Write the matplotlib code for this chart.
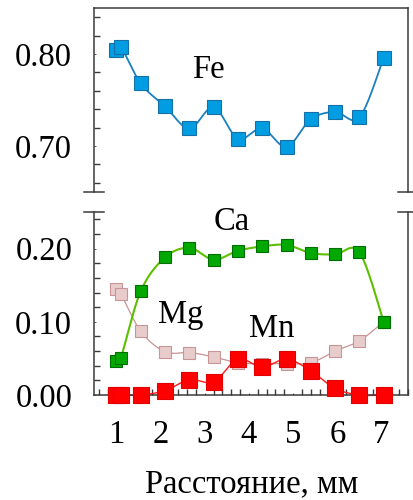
import numpy as np
import matplotlib
matplotlib.use("Agg")
import matplotlib.pyplot as plt
from matplotlib.ticker import MultipleLocator

plt.rcParams['font.family'] = ['Liberation Serif', 'DejaVu Serif']
plt.rcParams['mathtext.fontset'] = 'stix'

# Distance along the profile, mm
distance = [1.0, 1.1, 1.55, 2.1, 2.65, 3.2, 3.75, 4.3, 4.85, 5.4, 5.95, 6.5, 7.05]

# Cation fractions along the profile
fe = [0.804, 0.808, 0.768, 0.743, 0.719, 0.742, 0.708, 0.719, 0.699, 0.729, 0.737, 0.731, 0.796]
ca = [0.047, 0.051, 0.142, 0.188, 0.201, 0.185, 0.197, 0.203, 0.205, 0.194, 0.192, 0.195, 0.100]
mg = [0.145, 0.138, 0.087, 0.059, 0.058, 0.052, 0.044, 0.043, 0.043, 0.044, 0.060, 0.074, 0.100]
mn = [0.0, 0.0, 0.0, 0.006, 0.021, 0.018, 0.049, 0.038, 0.049, 0.033, 0.009, 0.0, 0.0]

x_ticks = [1, 2, 3, 4, 5, 6, 7]
top_ticks = [0.70, 0.80]
bottom_ticks = [0.00, 0.10, 0.20]


def smooth(x, y, n=24):
    """Catmull-Rom curve through the measured points."""
    pts = np.column_stack([x, y]).astype(float)
    P = np.vstack([pts[0], pts, pts[-1]])
    t = np.linspace(0, 1, n)[:, None]
    segs = []
    for i in range(1, len(P) - 2):
        p0, p1, p2, p3 = P[i - 1], P[i], P[i + 1], P[i + 2]
        seg = 0.5 * (2 * p1 + (-p0 + p2) * t
                     + (2 * p0 - 5 * p1 + 4 * p2 - p3) * t ** 2
                     + (-p0 + 3 * p1 - 3 * p2 + p3) * t ** 3)
        segs.append(seg if i == 1 else seg[1:])
    c = np.vstack(segs)
    return c[:, 0], c[:, 1]


fig = plt.figure(figsize=(4.14, 5.0), dpi=100)
ax_top = fig.add_axes([0.228, 0.6166, 0.7575, 0.3668])
ax_bot = fig.add_axes([0.228, 0.21, 0.7575, 0.366])

spine_col = '#3a3a3a'
fs = 23.5

series_top = [(fe, '#1a80c0', '#009de2', '#1670a8', 9.6, 1.3)]
series_bot = [
    (mg, '#c99393', '#e8cccc', '#c79595', 8.4, 0.9),
    (ca, '#5cbf00', '#00a800', '#006e00', 8.4, 1.5),
    (mn, '#ff1a1a', '#ff0000', '#e00000', 11.0, 1.0),
]

for ax, series in ((ax_top, series_top), (ax_bot, series_bot)):
    for vals, lc, fc, ec, ms, lw in series:
        sx, sy = smooth(distance, vals)
        ax.plot(sx, sy, color=lc, lw=lw, zorder=2, clip_on=False)
        ax.plot(distance, vals, ls='none', marker='s', ms=ms,
                mfc=fc, mec=ec, mew=0.8, zorder=3, clip_on=False)
    ax.set_xlim(0.5, 7.6)
    for s in ax.spines.values():
        s.set_color(spine_col)
        s.set_linewidth(1.1)

ax_top.set_ylim(0.65, 0.85)
ax_bot.set_ylim(0.0, 0.25)

# Axis break: hide facing spines and add short marks across the side spines
ax_top.spines['bottom'].set_visible(False)
ax_bot.spines['top'].set_visible(False)
d = 0.032
for ax, yb in ((ax_top, 0.0), (ax_bot, 1.0)):
    for xb in (0.0, 1.0):
        ax.plot([xb - d, xb + d], [yb, yb], transform=ax.transAxes,
                color=spine_col, lw=1.1, clip_on=False)

# Ticks
ax_top.set_xticks([])
ax_top.set_yticks(top_ticks)
ax_top.set_yticklabels([f"{v:.2f}" for v in top_ticks])
ax_top.yaxis.set_minor_locator(MultipleLocator(0.02))

ax_bot.set_yticks(bottom_ticks)
ax_bot.set_yticklabels([f"{v:.2f}" for v in bottom_ticks])
ax_bot.yaxis.set_minor_locator(MultipleLocator(0.02))
ax_bot.set_xticks(x_ticks)
ax_bot.set_xticklabels([str(v) for v in x_ticks])
ax_bot.xaxis.set_minor_locator(MultipleLocator(0.2))

for ax in (ax_top, ax_bot):
    ax.tick_params(axis='y', which='both', direction='in', left=True, right=False,
                   color=spine_col, labelsize=fs, pad=16)
    ax.tick_params(axis='y', which='major', length=1.5, width=0.6)
    ax.tick_params(axis='y', which='minor', length=4.2, width=1.0)
ax_bot.tick_params(axis='x', which='both', direction='in', bottom=True, top=False,
                   color=spine_col, labelsize=fs, pad=17.5)
ax_bot.tick_params(axis='x', which='major', length=1.5, width=0.6)
ax_bot.tick_params(axis='x', which='minor', length=4.0, width=1.0)

ax_bot.set_xlabel("Расстояние, мм", fontsize=fs, labelpad=14)

# Element labels
ax_top.text(3.08, 0.774, "Fe", fontsize=fs, ha='center', va='baseline')
ax_bot.text(3.61, 0.226, "Ca", fontsize=fs, ha='center', va='baseline', clip_on=False)
ax_bot.text(2.45, 0.098, "Mg", fontsize=fs, ha='center', va='baseline')
ax_bot.text(4.52, 0.079, "Mn", fontsize=fs, ha='center', va='baseline')

fig.savefig("out.png", dpi=100)
